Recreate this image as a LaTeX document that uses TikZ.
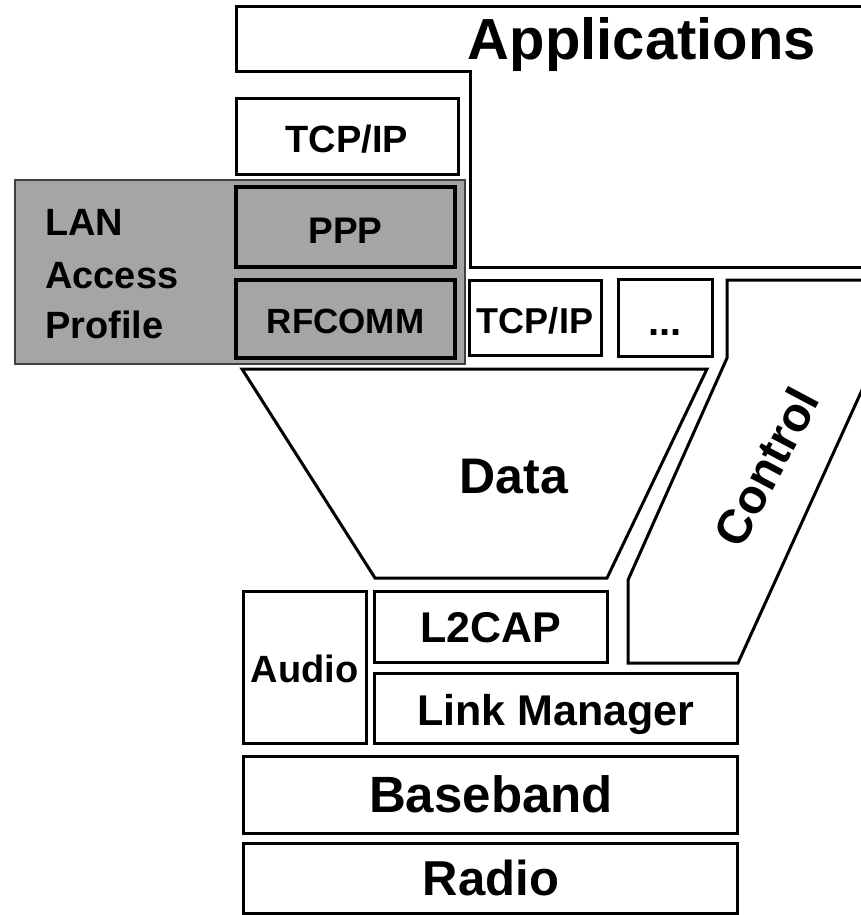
\documentclass[tikz,border=0pt]{standalone}
\usepackage{fontspec}
\setmainfont{Liberation Sans}
\newcommand\fsz[1]{\fontsize{#1}{#1}\selectfont\bfseries}
\definecolor{shade}{RGB}{165,165,165}
\begin{document}
\begin{tikzpicture}[x=1pt,y=-1pt,
  outline/.style={draw=black,line width=3pt,line join=miter},
  layer/.style={outline,fill=white,inner sep=0pt,rectangle},
  profbox/.style={draw=black,line width=4.5pt,fill=shade,inner sep=0pt,rectangle},
  lbl/.style={inner sep=0pt,anchor=base}]
\useasboundingbox (0,0) rectangle (861,915);
\clip (0,0) rectangle (861,915);
\fill[white] (0,0) rectangle (861,915);

% Applications block (stepped outline, runs off to the right)
\draw[outline] (236,7) -- (880,7) -- (880,267) -- (470,267) -- (470,72) -- (236,72) -- cycle;
\node[lbl,font=\fsz{58}] (apps) at (642,60) {Applications};

% TCP/IP above the LAN Access Profile
\node[layer,minimum width=222pt,minimum height=75pt] (tcpa) at (347,136.5) {};
\node[lbl,font=\fsz{38}] (tcpatxt) at (347,152) {TCP/IP};

% LAN Access Profile shaded area
\node[draw=black!75,line width=2pt,fill=shade,inner sep=0pt,rectangle,
      minimum width=450pt,minimum height=184pt] (lan) at (240,272) {};
\node[inner sep=0pt,anchor=base west,font=\fsz{38}] (lan1) at (45,235) {LAN};
\node[inner sep=0pt,anchor=base west,font=\fsz{38}] (lan2) at (45,288) {Access};
\node[inner sep=0pt,anchor=base west,font=\fsz{38}] (lan3) at (45,338) {Profile};
\node[profbox,minimum width=219pt,minimum height=80pt] (ppp) at (345.5,227) {};
\node[lbl,font=\fsz{37}] (ppptxt) at (345.5,243) {PPP};
\node[profbox,minimum width=219pt,minimum height=78pt] (rfcomm) at (345.5,319) {};
\node[lbl,font=\fsz{35}] (rfcommtxt) at (345.5,333) {RFCOMM};

% Other protocols over the data path
\node[layer,minimum width=132pt,minimum height=75pt] (tcpb) at (535,317.5) {};
\node[lbl,font=\fsz{36}] (tcpbtxt) at (535,333) {TCP/IP};
\node[layer,minimum width=94pt,minimum height=77pt] (more) at (665,317.5) {};
\node[lbl,font=\fsz{40}] (moretxt) at (665,335) {...};

% Data funnel
\draw[outline] (242,369) -- (707,369) -- (607,578) -- (375,578) -- cycle;
\node[lbl,font=\fsz{50}] (data) at (514,493) {Data};

% Control strip
\draw[outline] (727,280) -- (912,280) -- (738,663) -- (628,663) -- (628,580) -- (727,358) -- cycle;
\node[inner sep=0pt,font=\fsz{48},rotate=62] (control) at (766,467) {Control};

% Lower layers
\node[layer,minimum width=123pt,minimum height=152pt] (audio) at (304.5,667) {};
\node[lbl,font=\fsz{38}] (audiotxt) at (304.5,682) {Audio};
\node[layer,minimum width=233pt,minimum height=71pt] (l2cap) at (490.5,626.5) {};
\node[lbl,font=\fsz{43}] (l2captxt) at (491,642) {L2CAP};
\node[layer,minimum width=363pt,minimum height=70pt] (lm) at (555.5,708) {};
\node[lbl,font=\fsz{43}] (lmtxt) at (556,725) {Link Manager};
\node[layer,minimum width=494pt,minimum height=77pt] (bb) at (490,794.5) {};
\node[lbl,font=\fsz{51}] (bbtxt) at (491,812) {Baseband};
\node[layer,minimum width=494pt,minimum height=70pt] (radio) at (490,878) {};
\node[lbl,font=\fsz{49}] (radiotxt) at (491,895) {Radio};
\end{tikzpicture}
\end{document}
